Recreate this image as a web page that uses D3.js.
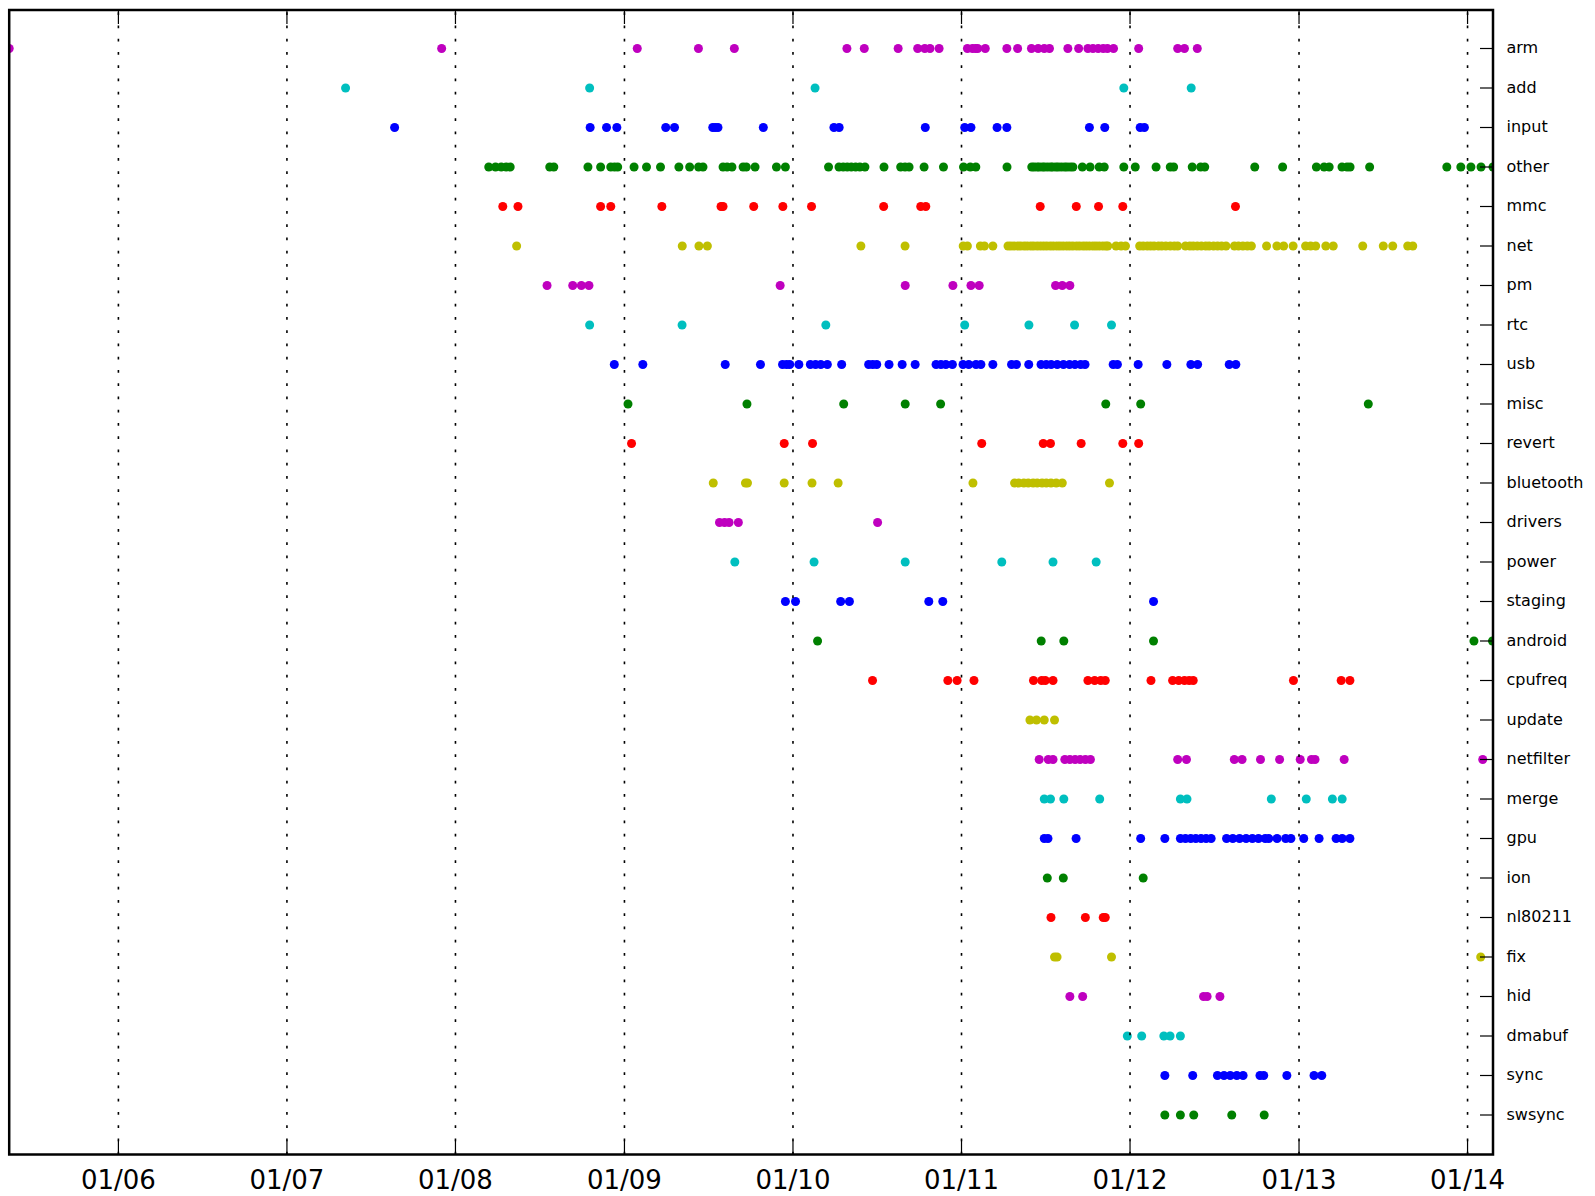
<!DOCTYPE html>
<html>
<head>
<meta charset="utf-8">
<script src="https://cdn.jsdelivr.net/npm/d3@7"></script>
<style>
  body { margin: 0; background: #fff; }
  svg { display: block; }
  .tick-label { font-family: "DejaVu Sans", sans-serif; fill: #000; }
</style>
</head>
<body>
<svg id="chart" width="1595" height="1196"></svg>
<script>
// categories, top to bottom
const categories = ["arm", "add", "input", "other", "mmc", "net", "pm", "rtc", "usb", "misc",
  "revert", "bluetooth", "drivers", "power", "staging", "android", "cpufreq", "update",
  "netfilter", "merge", "gpu", "ion", "nl80211", "fix", "hid", "dmabuf", "sync", "swsync"];

// commit dates per category, as decimal years
const arm = [2005.352, 2007.918, 2009.076, 2009.439, 2009.652, 2010.320, 2010.423, 2010.624, 2010.740,
  2010.782, 2010.813, 2010.867, 2011.035, 2011.065, 2011.083, 2011.096, 2011.141, 2011.269, 2011.333,
  2011.415, 2011.455, 2011.491, 2011.522, 2011.631, 2011.695, 2011.750, 2011.780, 2011.811, 2011.841,
  2011.866, 2011.902, 2012.051, 2012.282, 2012.322, 2012.398];
const add = [2007.348, 2008.794, 2010.131, 2011.963, 2012.362];
const input = [2007.639, 2008.797, 2008.894, 2008.955, 2009.245, 2009.297, 2009.524, 2009.539, 2009.555,
  2009.824, 2010.243, 2010.274, 2010.785, 2011.019, 2011.056, 2011.211, 2011.269, 2011.759, 2011.850,
  2012.060, 2012.085];
const other = [2008.197, 2008.237, 2008.271, 2008.300, 2008.324, 2008.558, 2008.582, 2008.784, 2008.859,
  2008.919, 2008.941, 2008.960, 2009.057, 2009.131, 2009.214, 2009.323, 2009.387, 2009.440, 2009.466,
  2009.585, 2009.609, 2009.638, 2009.704, 2009.723, 2009.775, 2009.902, 2009.955, 2010.211, 2010.273,
  2010.298, 2010.322, 2010.346, 2010.372, 2010.397, 2010.427, 2010.540, 2010.639, 2010.665, 2010.689,
  2010.778, 2010.893, 2011.012, 2011.052, 2011.085, 2011.270, 2011.417, 2011.431, 2011.449, 2011.462,
  2011.480, 2011.493, 2011.511, 2011.529, 2011.541, 2011.560, 2011.574, 2011.592, 2011.611, 2011.626,
  2011.645, 2011.661, 2011.717, 2011.763, 2011.817, 2011.847, 2011.963, 2012.031, 2012.154, 2012.238,
  2012.258, 2012.368, 2012.418, 2012.442, 2012.738, 2012.903, 2013.103, 2013.149, 2013.179, 2013.255,
  2013.285, 2013.303, 2013.419, 2013.877, 2013.960, 2014.020, 2014.080, 2014.151];
const mmc = [2008.280, 2008.370, 2008.859, 2008.919, 2009.222, 2009.573, 2009.585, 2009.767, 2009.940,
  2010.110, 2010.538, 2010.758, 2010.788, 2011.467, 2011.681, 2011.813, 2011.957, 2012.624];
const net = [2008.362, 2009.343, 2009.442, 2009.492, 2010.403, 2010.665, 2011.010, 2011.035, 2011.112,
  2011.136, 2011.186, 2011.276, 2011.293, 2011.312, 2011.334, 2011.351, 2011.372, 2011.390, 2011.411,
  2011.428, 2011.449, 2011.468, 2011.487, 2011.506, 2011.527, 2011.545, 2011.566, 2011.584, 2011.603,
  2011.624, 2011.642, 2011.661, 2011.683, 2011.701, 2011.722, 2011.740, 2011.759, 2011.780, 2011.798,
  2011.817, 2011.838, 2011.856, 2011.868, 2011.917, 2011.947, 2011.973, 2012.057, 2012.078, 2012.102,
  2012.122, 2012.142, 2012.168, 2012.188, 2012.212, 2012.238, 2012.262, 2012.282, 2012.328, 2012.354,
  2012.374, 2012.398, 2012.422, 2012.448, 2012.468, 2012.494, 2012.518, 2012.542, 2012.568, 2012.618,
  2012.642, 2012.668, 2012.694, 2012.718, 2012.808, 2012.869, 2012.909, 2012.965, 2013.039, 2013.069,
  2013.099, 2013.159, 2013.203, 2013.378, 2013.500, 2013.556, 2013.645, 2013.675];
const pm = [2008.542, 2008.694, 2008.745, 2008.790, 2009.924, 2010.666, 2010.949, 2011.056, 2011.105,
  2011.558, 2011.598, 2011.643];
const rtc = [2008.794, 2009.342, 2010.195, 2011.019, 2011.400, 2011.671, 2011.890];
const usb = [2008.940, 2009.109, 2009.598, 2009.807, 2009.938, 2009.962, 2009.981, 2010.035, 2010.103,
  2010.134, 2010.165, 2010.204, 2010.289, 2010.449, 2010.473, 2010.497, 2010.570, 2010.648, 2010.725,
  2010.849, 2010.878, 2010.907, 2010.946, 2011.009, 2011.043, 2011.086, 2011.115, 2011.186, 2011.297,
  2011.326, 2011.399, 2011.472, 2011.503, 2011.532, 2011.568, 2011.605, 2011.641, 2011.673, 2011.707,
  2011.733, 2011.900, 2011.925, 2012.048, 2012.218, 2012.360, 2012.400, 2012.587, 2012.626];
const misc = [2009.021, 2009.727, 2010.301, 2010.666, 2010.876, 2011.856, 2012.063, 2013.411];
const revert = [2009.042, 2009.948, 2010.116, 2011.120, 2011.485, 2011.528, 2011.710, 2011.957, 2012.051];
const bluetooth = [2009.527, 2009.718, 2009.730, 2009.948, 2010.113, 2010.268, 2011.068, 2011.315,
  2011.339, 2011.370, 2011.396, 2011.425, 2011.449, 2011.478, 2011.503, 2011.531, 2011.562, 2011.598,
  2011.878];
const drivers = [2009.564, 2009.594, 2009.621, 2009.676, 2010.502];
const power = [2009.655, 2010.125, 2010.666, 2011.239, 2011.543, 2011.799];
const staging = [2009.955, 2010.015, 2010.283, 2010.335, 2010.806, 2010.889, 2012.139];
const android = [2010.146, 2011.473, 2011.607, 2012.139, 2014.038, 2014.148];
const cpufreq = [2010.472, 2010.919, 2010.974, 2011.074, 2011.427, 2011.476, 2011.497, 2011.543,
  2011.750, 2011.790, 2011.826, 2011.853, 2012.124, 2012.252, 2012.288, 2012.322, 2012.350, 2012.374,
  2012.967, 2013.250, 2013.302];
const update = [2011.406, 2011.445, 2011.491, 2011.552];
const netfilter = [2011.461, 2011.515, 2011.543, 2011.613, 2011.643, 2011.674, 2011.704, 2011.735,
  2011.765, 2012.282, 2012.334, 2012.617, 2012.663, 2012.772, 2012.885, 2013.007, 2013.074, 2013.095,
  2013.268, 2014.090];
const merge = [2011.491, 2011.528, 2011.607, 2011.820, 2012.298, 2012.337, 2012.836, 2013.043, 2013.198,
  2013.256];
const gpu = [2011.491, 2011.513, 2011.680, 2012.063, 2012.206, 2012.298, 2012.328, 2012.359, 2012.389,
  2012.420, 2012.450, 2012.480, 2012.571, 2012.608, 2012.648, 2012.687, 2012.724, 2012.760, 2012.800,
  2012.821, 2012.870, 2012.921, 2012.952, 2013.028, 2013.119, 2013.220, 2013.256, 2013.302];
const ion = [2011.509, 2011.604, 2012.078];
const nl80211 = [2011.531, 2011.735, 2011.841, 2011.853];
const fix = [2011.552, 2011.567, 2011.890, 2014.078];
const hid = [2011.643, 2011.719, 2012.435, 2012.456, 2012.532];
const dmabuf = [2011.984, 2012.069, 2012.200, 2012.237, 2012.298];
const sync = [2012.206, 2012.371, 2012.517, 2012.556, 2012.593, 2012.632, 2012.669, 2012.769, 2012.791,
  2012.928, 2013.089, 2013.135];
const swsync = [2012.206, 2012.298, 2012.377, 2012.602, 2012.794];

const series = [arm, add, input, other, mmc, net, pm, rtc, usb, misc, revert, bluetooth, drivers, power,
  staging, android, cpufreq, update, netfilter, merge, gpu, ion, nl80211, fix, hid, dmabuf, sync, swsync];

// matplotlib classic colour letters, cycling m c b g r y from the top row
const palette = ["#bf00bf", "#00bfbf", "#0000ff", "#008000", "#ff0000", "#bfbf00"];

const margin = { left: 9.2, right: 1493, top: 10, bottom: 1154.5 };

function yearToDate(y) {
  const yr = Math.floor(y);
  const start = new Date(yr, 0, 1), end = new Date(yr + 1, 0, 1);
  return new Date(+start + (y - yr) * (end - start));
}

const points = [];
series.forEach((vals, i) => vals.forEach(v => points.push({ row: i, date: yearToDate(v) })));

const svg = d3.select("#chart");

const x = d3.scaleTime()
  .domain(d3.extent(points, d => d.date))
  .range([margin.left, margin.right]);

const y = d3.scaleLinear()
  .domain([0, categories.length - 1])
  .range([48.5, 1115]);

const yearTicks = x.ticks(d3.timeYear.every(1));

svg.append("defs").append("clipPath").attr("id", "clip")
  .append("rect")
  .attr("x", margin.left).attr("y", margin.top)
  .attr("width", margin.right - margin.left)
  .attr("height", margin.bottom - margin.top);

// dots
svg.append("g").attr("clip-path", "url(#clip)")
  .selectAll("circle")
  .data(points)
  .join("circle")
  .attr("cx", d => x(d.date))
  .attr("cy", d => y(d.row))
  .attr("r", 4.5)
  .attr("fill", d => palette[d.row % palette.length]);

// dotted grid (drawn bottom to top, above the dots like matplotlib)
svg.append("g")
  .selectAll("line")
  .data(yearTicks)
  .join("line")
  .attr("x1", d => x(d)).attr("x2", d => x(d))
  .attr("y1", margin.bottom).attr("y2", margin.top)
  .attr("stroke", "#000")
  .attr("stroke-width", 1.6)
  .attr("stroke-dasharray", "2.7,10.55");

// x ticks, inward, top and bottom
const xt = svg.append("g").attr("stroke", "#000").attr("stroke-width", 1.2);
xt.selectAll("line.b").data(yearTicks).join("line").attr("class", "b")
  .attr("x1", d => x(d)).attr("x2", d => x(d))
  .attr("y1", margin.bottom).attr("y2", margin.bottom - 14);
xt.selectAll("line.t").data(yearTicks).join("line").attr("class", "t")
  .attr("x1", d => x(d)).attr("x2", d => x(d))
  .attr("y1", margin.top).attr("y2", margin.top + 14);

svg.append("g")
  .selectAll("text")
  .data(yearTicks)
  .join("text")
  .attr("class", "tick-label")
  .attr("x", d => x(d))
  .attr("y", margin.bottom + 34.5)
  .attr("text-anchor", "middle")
  .style("font-size", "26px")
  .text(d3.timeFormat("%m/%y"));

// y ticks on the right, inward
svg.append("g").attr("stroke", "#000").attr("stroke-width", 1.2)
  .selectAll("line")
  .data(categories)
  .join("line")
  .attr("x1", margin.right).attr("x2", margin.right - 13)
  .attr("y1", (d, i) => y(i)).attr("y2", (d, i) => y(i));

svg.append("g")
  .selectAll("text")
  .data(categories)
  .join("text")
  .attr("class", "tick-label")
  .attr("x", margin.right + 13.5)
  .attr("y", (d, i) => y(i) + 4.5)
  .style("font-size", "16px")
  .text(d => d);

// frame
svg.append("rect")
  .attr("x", margin.left).attr("y", margin.top)
  .attr("width", margin.right - margin.left)
  .attr("height", margin.bottom - margin.top)
  .attr("fill", "none")
  .attr("stroke", "#000")
  .attr("stroke-width", 2.5);
</script>
</body>
</html>
